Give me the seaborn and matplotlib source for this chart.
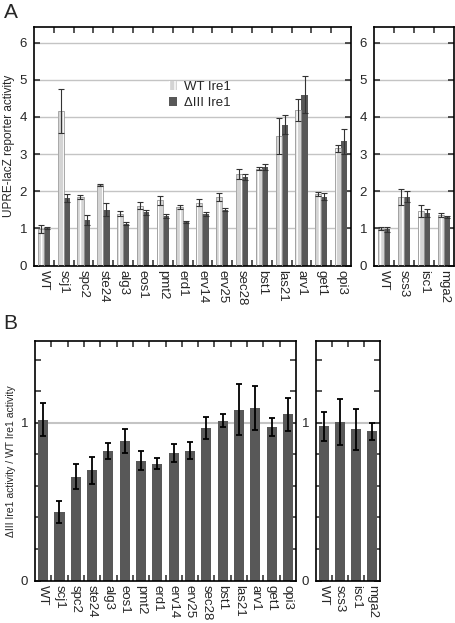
import numpy as np
import pandas as pd
import matplotlib
matplotlib.use('Agg')
import matplotlib.pyplot as plt
from matplotlib.patches import Rectangle, Patch
from matplotlib.ticker import FixedLocator, MultipleLocator
import seaborn as sns

# data
genes_main = ['WT', 'scj1', 'spc2', 'ste24', 'alg3', 'eos1', 'pmt2', 'erd1', 'erv14',
              'erv25', 'sec28', 'bst1', 'las21', 'arv1', 'get1', 'opi3']
genes_side = ['WT', 'scs3', 'isc1', 'mga2']
constructs = ['WT Ire1', '\u0394III Ire1']

wt_main = [0.98, 4.16, 1.85, 2.17, 1.40, 1.61, 1.75, 1.58, 1.69, 1.84, 2.46, 2.61, 3.49, 4.19, 1.92, 3.15]
wt_main_err = [0.10, 0.58, 0.06, 0.02, 0.06, 0.09, 0.11, 0.05, 0.09, 0.10, 0.13, 0.03, 0.48, 0.29, 0.05, 0.10]
d3_main = [1.01, 1.81, 1.22, 1.50, 1.12, 1.43, 1.33, 1.17, 1.38, 1.50, 2.39, 2.65, 3.79, 4.60, 1.85, 3.34]
d3_main_err = [0.02, 0.11, 0.14, 0.18, 0.04, 0.07, 0.06, 0.03, 0.05, 0.04, 0.08, 0.09, 0.25, 0.50, 0.10, 0.33]

wt_side = [0.99, 1.84, 1.47, 1.36]
wt_side_err = [0.04, 0.22, 0.17, 0.06]
d3_side = [0.98, 1.85, 1.41, 1.30]
d3_side_err = [0.07, 0.15, 0.10, 0.03]

ratio_main = [1.02, 0.435, 0.66, 0.70, 0.82, 0.887, 0.76, 0.742, 0.81, 0.824, 0.97, 1.014, 1.085, 1.096, 0.976, 1.054]
ratio_main_err = [0.105, 0.067, 0.08, 0.085, 0.05, 0.077, 0.06, 0.035, 0.058, 0.055, 0.07, 0.04, 0.163, 0.14, 0.057, 0.107]
ratio_side = [0.978, 1.008, 0.959, 0.946]
ratio_side_err = [0.09, 0.145, 0.13, 0.055]

sns.set_theme(style='ticks')
plt.rcParams['font.family'] = ['Liberation Sans', 'DejaVu Sans']
plt.rcParams['axes.linewidth'] = 1.2
plt.rcParams['hatch.linewidth'] = 1.0

light = '#d4d4d4'
dark = '#585858'
tick_fs = 9.5

fig = plt.figure(figsize=(4.56, 6.23), dpi=100)
axA1 = fig.add_axes([0.0746, 0.5738, 0.6952, 0.3829])
axA2 = fig.add_axes([0.8202, 0.5738, 0.1754, 0.3829])
axB1 = fig.add_axes([0.0768, 0.0682, 0.5724, 0.3844])
axB2 = fig.add_axes([0.6930, 0.0682, 0.1404, 0.3844])


def make_long(genes, wt, wt_err, d3, d3_err):
    return pd.DataFrame({
        'gene': genes + genes,
        'construct': [constructs[0]] * len(genes) + [constructs[1]] * len(genes),
        'value': wt + d3,
        'err': wt_err + d3_err,
    })


def style_ticks(ax, n, fs=tick_fs):
    ax.set_xlim(-0.5, n - 0.5)
    ax.xaxis.set_minor_locator(FixedLocator(np.arange(0.5, n - 0.5, 1)))
    ax.tick_params(axis='x', which='major', length=0, pad=3, labelsize=fs)
    ax.tick_params(axis='x', which='minor', direction='in', length=4, width=1.1,
                   top=True, bottom=True)
    ax.tick_params(axis='y', which='both', direction='in', length=4, width=1.1,
                   left=True, right=True, labelsize=fs, pad=5)
    for lab in ax.get_xticklabels():
        lab.set_rotation(-90)
        lab.set_va('top')
        lab.set_ha('center')
    ax.set_xlabel('')
    for s in ax.spines.values():
        s.set_color('black')


def draw_paired(ax, df, genes):
    sns.barplot(data=df, x='gene', y='value', hue='construct', order=genes,
                hue_order=constructs, palette=[light, dark], width=0.62,
                errorbar=None, legend=False, ax=ax, saturation=1, zorder=2)
    for cont, con in zip(ax.containers, constructs):
        errs = df.loc[df.construct == con, 'err'].values
        xs = [p.get_x() + p.get_width() / 2 for p in cont]
        hs = [p.get_height() for p in cont]
        for p in cont:
            p.set_linewidth(0)
            if con == constructs[0]:
                p.set_hatch('|||')
                p.set_edgecolor('white')
                ax.add_patch(Rectangle(p.get_xy(), p.get_width(), p.get_height(),
                                       fill=False, ec='#9a9a9a', lw=0.6, zorder=3))
        ax.errorbar(xs, hs, yerr=errs, fmt='none', ecolor='#333333', elinewidth=0.8,
                    capsize=2, capthick=0.8, zorder=4)
    ax.set_ylim(0, 6.42)
    ax.set_yticks(range(0, 7))
    ax.yaxis.grid(True, color='#c4c4c4', lw=1.0)
    ax.set_axisbelow(True)
    style_ticks(ax, len(genes))


dfA1 = make_long(genes_main, wt_main, wt_main_err, d3_main, d3_main_err)
dfA2 = make_long(genes_side, wt_side, wt_side_err, d3_side, d3_side_err)
draw_paired(axA1, dfA1, genes_main)
draw_paired(axA2, dfA2, genes_side)
axA1.set_ylabel('UPRE-lacZ reporter activity', fontsize=8.5, labelpad=3)
axA2.set_ylabel('')

h1 = Patch(facecolor=light, edgecolor='white', hatch='|||', lw=0)
h2 = Patch(facecolor=dark, lw=0)
axA1.legend([h1, h2], constructs, loc='upper left', bbox_to_anchor=(0.41, 0.795),
            frameon=False, fontsize=9.5, handlelength=0.6, handleheight=0.6,
            handletextpad=0.5, labelspacing=0.3, borderaxespad=0)


def draw_ratio(ax, genes, vals, errs):
    sns.barplot(x=genes, y=vals, color=dark, width=0.62, errorbar=None,
                saturation=1, ax=ax, zorder=2)
    cont = ax.containers[0]
    xs = [p.get_x() + p.get_width() / 2 for p in cont]
    for p in cont:
        p.set_linewidth(0)
    ax.errorbar(xs, vals, yerr=errs, fmt='none', ecolor='black', elinewidth=1.3,
                capsize=2.5, capthick=1.3, zorder=4)
    ax.axhline(1, color='#c4c4c4', lw=1.5, zorder=0)
    ax.set_ylim(0, 1.52)
    ax.set_yticks([0, 1])
    ax.yaxis.set_minor_locator(MultipleLocator(0.2))
    style_ticks(ax, len(genes))


draw_ratio(axB1, genes_main, ratio_main, ratio_main_err)
draw_ratio(axB2, genes_side, ratio_side, ratio_side_err)
axB1.set_ylabel('\u0394III Ire1 activity / WT Ire1 activity', fontsize=7.5, labelpad=3)

fig.text(0.008, 0.98, 'A', fontsize=15, va='center', ha='left')
fig.text(0.008, 0.48, 'B', fontsize=15, va='center', ha='left')

fig.savefig('out.png', dpi=100)
